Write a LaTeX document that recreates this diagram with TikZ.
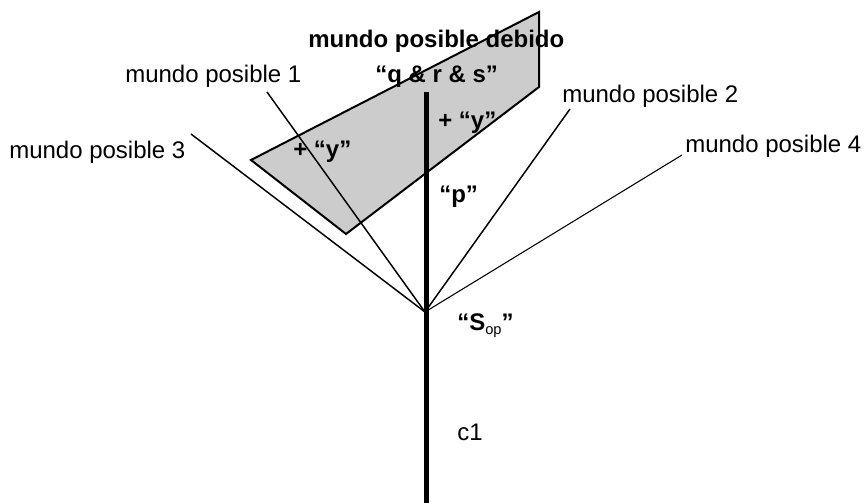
\documentclass[tikz,border=0pt]{standalone}
\usepackage{fontspec}
\setmainfont{Liberation Sans}
\definecolor{planegray}{gray}{0.8}

\begin{document}
\begin{tikzpicture}[
    x=0.75pt, y=-0.75pt,
    lbl/.style={
	inner sep=0pt,
	anchor=base west,
	font=\fontsize{18}{21}\selectfont
    },
    boldlbl/.style={lbl, font=\fontsize{18}{21}\selectfont\bfseries},
    world/.style={line width=1.1pt},
    plane/.style={line width=1.5pt, fill=planegray}
]
	\useasboundingbox (0,0) rectangle (865,503);

	% Mundo posible debido (plane)
	\draw[plane] (539,12) -- (539,87) -- (346,234) -- (251,160) -- cycle;

	% Apex and line ends
	\coordinate (sop) at (425,312);
	\coordinate (ctop) at (426,92);
	\coordinate (cbot) at (426,503);
	\coordinate (e1) at (267,92);
	\coordinate (e2) at (570,109);
	\coordinate (e3) at (191,134);
	\coordinate (e4) at (682,155);

	% Worlds
	\draw[world] (e1) -- (sop);
	\draw[world] (e2) -- (sop);
	\draw[world] (e3) -- (sop);
	\draw[line width=0.8pt] (e4) -- (sop);

	% c1
	\draw[line width=3.75pt] (ctop) -- (cbot);

	% Labels
	\node[lbl] (w1) at (125,83) {mundo posible 1};
	\node[lbl] (w2) at (562,103) {mundo posible 2};
	\node[lbl] (w3) at (9,158) {mundo posible 3};
	\node[lbl] (w4) at (685,152) {mundo posible 4};

	\node[boldlbl] (debido) at (308,48) {mundo posible debido};
	\node[boldlbl] (qrs) at (375,83) {“q \& r \& s”};
	\node[boldlbl] (yright) at (438,128) {+ “y”};
	\node[boldlbl] (yleft) at (293,157) {+ “y”};
	\node[boldlbl] (p) at (439,202) {“p”};
	\node[boldlbl] (soplbl) at (457,330)
	    {“S\raisebox{-0.35ex}{\normalfont\fontsize{11}{12}\selectfont op}”};
	\node[lbl] (c1) at (457,440) {c1};
\end{tikzpicture}
\end{document}
